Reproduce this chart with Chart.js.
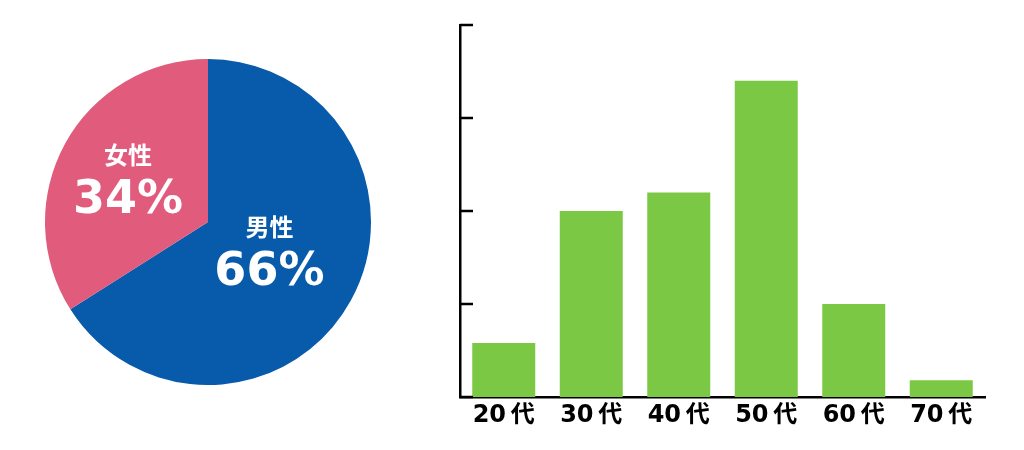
<!DOCTYPE html>
<html>
<head>
<meta charset="utf-8">
<script src="https://cdn.jsdelivr.net/npm/chart.js@4"></script>
<style>
  body { margin: 0; background: #fff; width: 1024px; height: 450px; position: relative; overflow: hidden; }
  #pie-box { position: absolute; left: 45px; top: 59px; width: 326px; height: 326px; }
  #bar-box { position: absolute; left: 400px; top: 0; width: 624px; height: 450px; }
</style>
</head>
<body>
<div id="pie-box"><canvas id="pie"></canvas></div>
<div id="bar-box"><canvas id="bar"></canvas></div>
<script>
// gender split (clockwise from top)
const genderLabels = ['男性', '女性'];
const genderValues = [66, 34];
const genderColors = ['#085aaa', '#e05b7c'];

// age groups
const ageLabels = ['20代', '30代', '40代', '50代', '60代', '70代'];
const ageValues = [0.58, 2.0, 2.2, 3.4, 1.0, 0.18];
const yTicks = [0, 1, 2, 3, 4];

const FONT = '"DejaVu Sans", "Noto Sans CJK JP", sans-serif';

// label placement per slice: fraction of radius along the mid angle, then a small vertical nudge
const labelDist = [0.43, 0.56];
const labelNudge = [-5, 1];

const pieLabels = {
    id: 'pieLabels',
    afterDatasetsDraw(chart) {
        const ctx = chart.ctx;
        const arcs = chart.getDatasetMeta(0).data;
        ctx.save();
        ctx.fillStyle = '#fff';
        ctx.textAlign = 'center';
        ctx.textBaseline = 'middle';
        arcs.forEach((arc, i) => {
            const mid = (arc.startAngle + arc.endAngle) / 2;
            const r = arc.outerRadius * labelDist[i];
            const x = arc.x + Math.cos(mid) * r;
            const y = arc.y + Math.sin(mid) * r + labelNudge[i];
            ctx.font = `bold 24px "Noto Sans CJK JP", sans-serif`;
            ctx.fillText(genderLabels[i], x, y - 24);
            ctx.font = `bold 46px ${FONT}`;
            ctx.fillText(genderValues[i] + '%', x, y + 22);
        });
        ctx.restore();
    }
};

new Chart(document.getElementById('pie'), {
    type: 'pie',
    data: {
        labels: genderLabels,
        datasets: [{
            data: genderValues,
            backgroundColor: genderColors,
            borderWidth: 0
        }]
    },
    options: {
        responsive: true,
        maintainAspectRatio: false,
        animation: false,
        events: [],
        layout: { padding: 0 },
        plugins: { legend: { display: false }, tooltip: { enabled: false } }
    },
    plugins: [pieLabels]
});

// short tick marks pointing into the plot from the y axis
const innerTicks = {
    id: 'innerTicks',
    afterDraw(chart) {
        const y = chart.scales.y;
        const ctx = chart.ctx;
        ctx.save();
        ctx.strokeStyle = '#000';
        ctx.lineWidth = 2.5;
        y.ticks.forEach(t => {
            const py = Math.round(y.getPixelForValue(t.value));
            ctx.beginPath();
            ctx.moveTo(chart.chartArea.left, py);
            ctx.lineTo(chart.chartArea.left + 13, py);
            ctx.stroke();
        });
        ctx.restore();
    }
};

new Chart(document.getElementById('bar'), {
    type: 'bar',
    data: {
        labels: ageLabels,
        datasets: [{
            data: ageValues,
            backgroundColor: '#7bc844',
            categoryPercentage: 1,
            barPercentage: 0.72
        }]
    },
    options: {
        responsive: true,
        maintainAspectRatio: false,
        animation: false,
        events: [],
        layout: { padding: { left: 0, right: 39, top: 25, bottom: 0 } },
        plugins: { legend: { display: false }, tooltip: { enabled: false } },
        scales: {
            x: {
                grid: { display: false },
                border: { color: '#000', width: 2.5 },
                ticks: {
                    color: '#000',
                    padding: -4,
                    font: { family: FONT, size: 24, weight: 'bold' },
                    callback: (v, i) => ageLabels[i].replace('代', '\u2009代')
                },
                afterFit: s => { s.height = 53; }
            },
            y: {
                min: 0,
                max: 4,
                afterBuildTicks: s => { s.ticks = yTicks.map(v => ({ value: v })); },
                grid: { display: false },
                border: { color: '#000', width: 2.5 },
                ticks: { display: false },
                afterFit: s => { s.width = 60; }
            }
        }
    },
    plugins: [innerTicks]
});
</script>
</body>
</html>
